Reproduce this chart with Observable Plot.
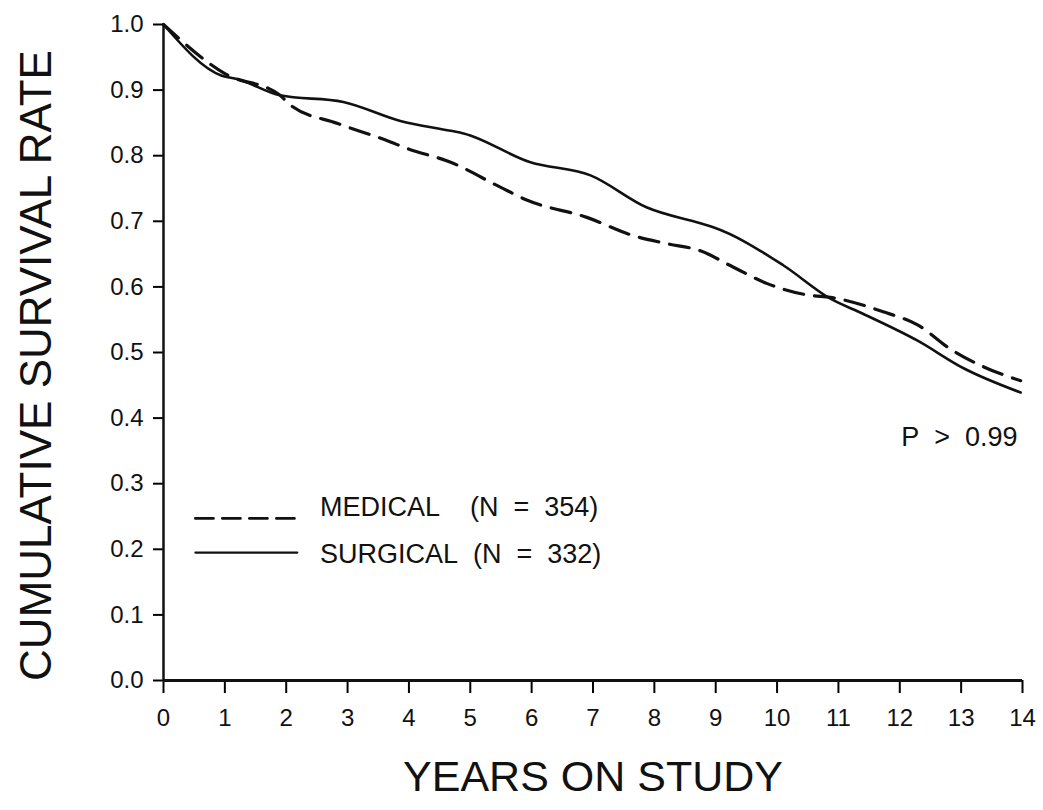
<!DOCTYPE html>
<html>
<head>
<meta charset="utf-8">
<script src="https://cdn.jsdelivr.net/npm/d3@7"></script>
<script src="https://cdn.jsdelivr.net/npm/@observablehq/plot@0.6"></script>
<style>
  body { margin: 0; background: #fff; }
  svg { font-family: "Liberation Sans", Arial, sans-serif; }
</style>
</head>
<body>
<div id="chart"></div>
<script>
// Surgical (solid)
const surgicalYears = [0, 0.95, 1.2, 1.9, 2.93, 3.86, 4.68, 4.89, 5.98, 6.96, 7.88, 8.75, 8.96, 10.1, 10.87, 11.4, 12.29, 13.04, 13.97];
const surgicalRate  = [1.0, 0.922, 0.917, 0.892, 0.882, 0.853, 0.838, 0.834, 0.790, 0.770, 0.721, 0.697, 0.691, 0.633, 0.582, 0.559, 0.518, 0.476, 0.439];
// Medical (dashed)
const medicalYears = [0, 1.0, 1.9, 2.07, 2.84, 3.7, 3.94, 4.68, 5.49, 5.93, 6.9, 7.66, 8.2, 8.75, 9.29, 9.84, 10.54, 10.87, 11.73, 12.29, 12.83, 13.37, 13.97];
const medicalRate  = [1.0, 0.925, 0.892, 0.877, 0.849, 0.821, 0.812, 0.790, 0.752, 0.732, 0.706, 0.678, 0.666, 0.655, 0.630, 0.605, 0.587, 0.584, 0.562, 0.542, 0.505, 0.478, 0.457];

const xTicks = [0,1,2,3,4,5,6,7,8,9,10,11,12,13,14];
const yTicks = [0,0.1,0.2,0.3,0.4,0.5,0.6,0.7,0.8,0.9,1.0];

const S = "\u00a0";
const legendLabels = ["MEDICAL" + S.repeat(4) + "(N" + S.repeat(2) + "=" + S.repeat(2) + "354)",
                      "SURGICAL" + S.repeat(2) + "(N" + S.repeat(2) + "=" + S.repeat(2) + "332)"];
const pValueLabel = "P" + S.repeat(2) + ">" + S.repeat(2) + "0.99";
const xTitle = "YEARS ON STUDY";
const yTitle = "CUMULATIVE SURVIVAL RATE";

// legend placement in data units
const legendLineX = [0.52, 2.18];
const legendLineY = [0.247, 0.195];
const legendTextX = 2.55;
const legendTextY = [0.264, 0.192];
const pValuePos = {x: 14, y: 0.370};

const surgical = surgicalYears.map((x, i) => ({x, y: surgicalRate[i]}));
const medical = medicalYears.map((x, i) => ({x, y: medicalRate[i]}));

const legendLines = legendLineY.flatMap((y, i) => legendLineX.map(x => ({x, y, s: i})));

const chart = Plot.plot({
  width: 1043,
  height: 810,
  marginLeft: 163,
  marginRight: 21,
  marginTop: 24,
  marginBottom: 130,
  x: {domain: [0, 14]},
  y: {domain: [0, 1]},
  marks: [
    Plot.axisX({ticks: xTicks, tickSize: 13, tickPadding: 15, tickFormat: d3.format("d"), fontSize: 24, label: null, strokeWidth: 2, fill: "#111"}),
    Plot.axisY({ticks: yTicks, tickSize: 10, tickPadding: 10, tickFormat: d3.format(".1f"), fontSize: 24, label: null, strokeWidth: 2, fill: "#111"}),
    Plot.ruleX([0], {stroke: "#111", strokeWidth: 2.5}),
    Plot.ruleY([0], {stroke: "#111", strokeWidth: 3}),
    Plot.line(medical, {x: "x", y: "y", curve: "monotone-x", stroke: "#111", strokeWidth: 3.2, strokeDasharray: "20,11"}),
    Plot.line(surgical, {x: "x", y: "y", curve: "monotone-x", stroke: "#111", strokeWidth: 2.6}),
    Plot.line(legendLines.filter(d => d.s === 0), {x: "x", y: "y", stroke: "#111", strokeWidth: 2.8, strokeDasharray: "18,9"}),
    Plot.line(legendLines.filter(d => d.s === 1), {x: "x", y: "y", stroke: "#111", strokeWidth: 2.2}),
    Plot.text(legendLabels, {x: () => legendTextX, y: (d, i) => legendTextY[i], text: d => d, textAnchor: "start", fontSize: 27, fill: "#111"}),
    Plot.text([pValueLabel], {x: () => pValuePos.x, y: () => pValuePos.y, text: d => d, textAnchor: "end", dx: -5, fontSize: 27, fill: "#111"}),
    Plot.text([xTitle], {frameAnchor: "bottom", dy: 110, textAnchor: "middle", text: d => d, fontSize: 43, fill: "#111"}),
    Plot.text([yTitle], {frameAnchor: "left", dx: -127, dy: 13, textAnchor: "middle", rotate: -90, text: d => d, fontSize: 44, fill: "#111"})
  ]
});
document.getElementById("chart").appendChild(chart);
</script>
</body>
</html>
